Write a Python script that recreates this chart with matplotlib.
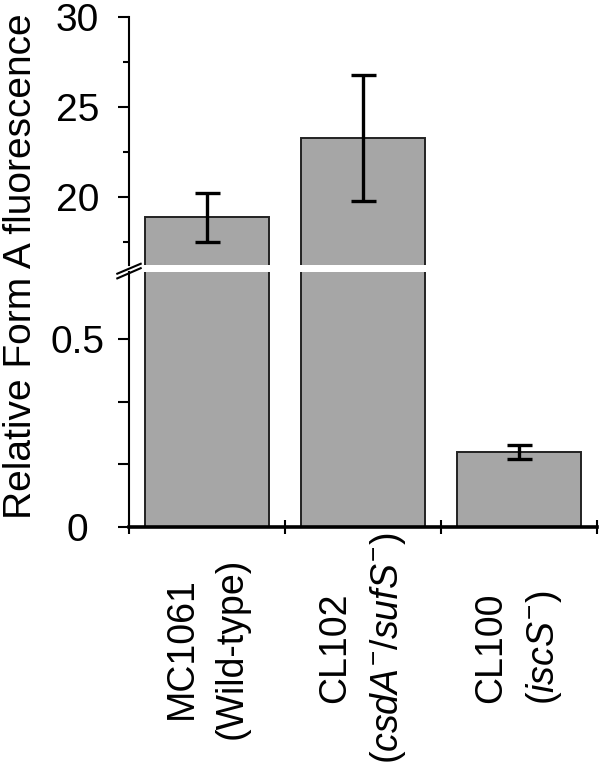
import matplotlib
matplotlib.use("Agg")
import matplotlib.pyplot as plt
from matplotlib.transforms import blended_transform_factory

plt.rcParams['font.family'] = ['Liberation Sans', 'DejaVu Sans']
plt.rcParams['mathtext.fontset'] = 'custom'
plt.rcParams['mathtext.rm'] = 'Liberation Sans'
plt.rcParams['mathtext.it'] = 'Liberation Sans:italic'

# data
strains = ['MC1061\n(Wild-type)',
           'CL102\n($\\mathit{csdA}^{-}$/$\\mathit{sufS}^{-}$)',
           'CL100\n($\\mathit{iscS}^{-}$)']
fluorescence = [18.85, 23.25, 0.20]
err = [1.35, 3.5, 0.018]
upper_ticks = [20, 25, 30]
upper_minor = [17.5, 22.5, 27.5]
lower_ticks = [0, 0.5 / 3, 1 / 3, 0.5]
lower_labels = ['0', '', '', '0.5']

fig = plt.figure(figsize=(6, 7.69), dpi=100)
left, width = 129 / 600, 468 / 600
ax_up = fig.add_axes([left, 1 - 265 / 769, width, (265 - 17) / 769])
ax_lo = fig.add_axes([left, 1 - 527 / 769, width, (527 - 272) / 769])

x = list(range(len(strains)))
for ax in (ax_up, ax_lo):
    ax.bar(x, fluorescence, width=0.79, color='#a6a6a6', edgecolor='#222222',
           linewidth=1.4, zorder=2)
    ax.errorbar(x, fluorescence, yerr=err, fmt='none', ecolor='black',
                elinewidth=2.4, capsize=9, capthick=2.4, zorder=3)
    ax.set_xlim(-0.5, 2.5)
    ax.spines['right'].set_visible(False)
    ax.spines['top'].set_visible(False)
    ax.spines['left'].set_linewidth(1.5)
    ax.tick_params(axis='y', which='major', length=8, width=1.5, labelsize=28,
                   pad=29)
    ax.tick_params(axis='y', which='minor', length=4.5, width=1.5)

ax_up.set_ylim(16.2, 30)
ax_up.set_yticks(upper_ticks)
ax_up.set_yticks(upper_minor, minor=True)
for lab in ax_up.get_yticklabels():
    lab.set_horizontalalignment('center')
ax_up.spines['bottom'].set_visible(False)
ax_up.set_xticks([])

ax_lo.set_ylim(0, 0.678)
ax_lo.set_yticks(lower_ticks)
ax_lo.set_yticklabels(lower_labels)
for lab in ax_lo.get_yticklabels():
    lab.set_horizontalalignment('center')
ax_lo.spines['bottom'].set_linewidth(2.6)
ax_lo.set_xticks([-0.5, 0.5, 1.5, 2.5])
ax_lo.set_xticklabels([])
ax_lo.tick_params(axis='x', direction='inout', length=10, width=1.5)

trans = blended_transform_factory(ax_lo.transData, ax_lo.transAxes)
for xi, name in zip(x, strains):
    ax_lo.text(xi, -0.475, name, transform=trans, rotation=90, ha='center',
               va='center', multialignment='center', fontsize=27,
               linespacing=1.5)

# break marks on the y axis
kw = dict(color='black', linewidth=1.5, clip_on=False)
ax_up.plot([-0.025, 0.025], [-0.035, 0.005], transform=ax_up.transAxes, **kw)
ax_lo.plot([-0.025, 0.025], [0.975, 1.015], transform=ax_lo.transAxes, **kw)

fig.text(21 / 600, 1 - 266 / 769, 'Relative Form A fluorescence', rotation=90,
         ha='center', va='center', fontsize=28)

fig.savefig('out.png', dpi=100)
